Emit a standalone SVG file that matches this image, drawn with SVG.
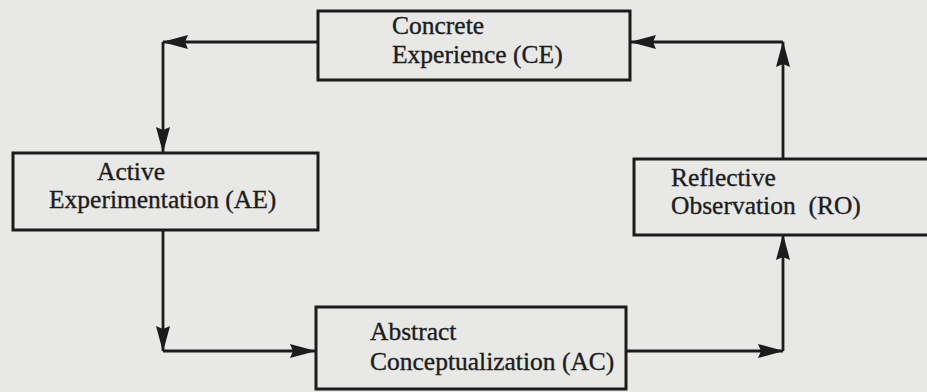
<svg xmlns="http://www.w3.org/2000/svg" width="927" height="392" viewBox="0 0 927 392">
  <style>
    .box { fill: none; stroke: #1c1c1c; stroke-width: 3; }
    .lbl { font-family: "Liberation Serif", "Times New Roman", serif; font-size: 25.5px; fill: #1c1c1c; stroke: #1c1c1c; stroke-width: 0.35; white-space: pre; }
    .link { fill: none; stroke: #1c1c1c; stroke-width: 2.8; marker-end: url(#head); }
  </style>
  <defs>
    <marker id="head" markerUnits="userSpaceOnUse" markerWidth="26" markerHeight="16" refX="25" refY="8" orient="auto">
      <path d="M0,1 L26,8 L0,15 L3,8 z" fill="#1c1c1c"/>
    </marker>
  </defs>

  <!-- paper -->
  <rect x="0" y="0" width="927" height="392" fill="#e8e8e6"/>

  <!-- learning cycle connectors -->
  <g id="connectors">
    <path class="link" d="M318,42 L163,42"/>
    <path class="link" d="M163,42 L163,152"/>
    <path class="link" d="M163,230 L163,351"/>
    <path class="link" d="M163,351 L315,351"/>
    <path class="link" d="M626,351 L783,351"/>
    <path class="link" d="M783,351 L783,235"/>
    <path class="link" d="M783,160 L783,42"/>
    <path class="link" d="M783,42 L631,42"/>
  </g>

  <g id="ce">
    <rect class="box" x="318" y="11" width="312" height="69"/>
    <text class="lbl" x="392" y="34">Concrete</text>
    <text class="lbl" x="392" y="63">Experience (CE)</text>
  </g>

  <g id="ae">
    <rect class="box" x="13" y="153" width="305" height="77"/>
    <text class="lbl" x="97" y="180">Active</text>
    <text class="lbl" x="49" y="208">Experimentation (AE)</text>
  </g>

  <g id="ro">
    <rect class="box" x="634" y="159" width="310" height="76"/>
    <text class="lbl" x="671" y="186">Reflective</text>
    <text class="lbl" x="671" y="214">Observation  (RO)</text>
  </g>

  <g id="ac">
    <rect class="box" x="316" y="307" width="310" height="82"/>
    <text class="lbl" x="370" y="340">Abstract</text>
    <text class="lbl" x="370" y="370">Conceptualization (AC)</text>
  </g>
</svg>
